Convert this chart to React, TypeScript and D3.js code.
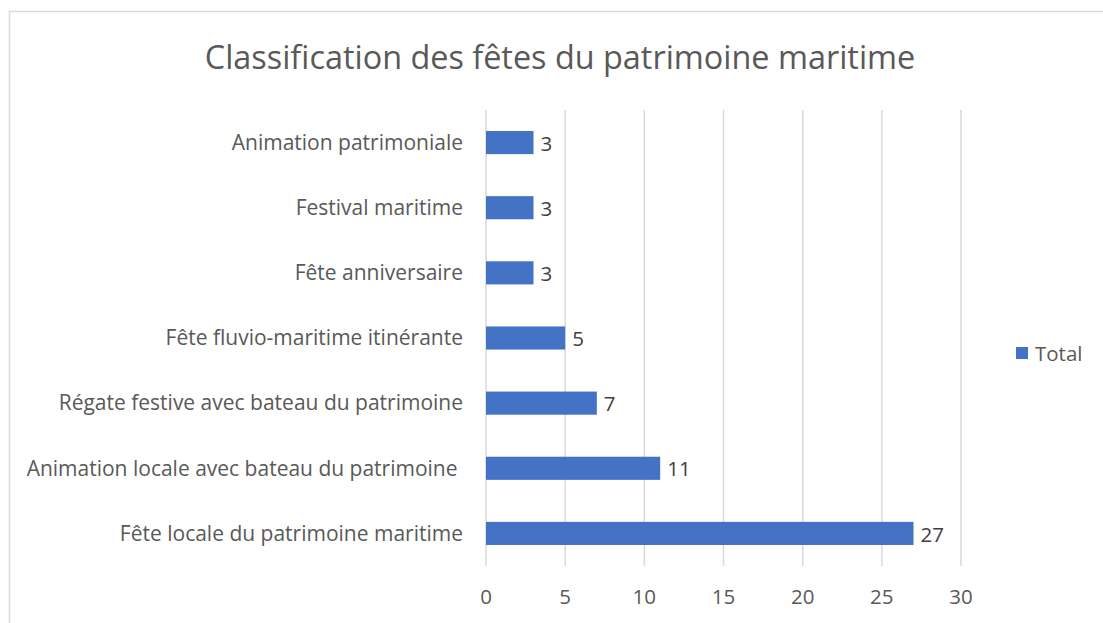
import React from "react";
import * as d3 from "d3";

const title = "Classification des fêtes du patrimoine maritime";
const categories = [
  "Animation patrimoniale",
  "Festival maritime",
  "Fête anniversaire",
  "Fête fluvio-maritime itinérante",
  "Régate festive avec bateau du patrimoine",
  "Animation locale avec bateau du patrimoine ",
  "Fête locale du patrimoine maritime",
];
const values = [3, 3, 3, 5, 7, 11, 27];
const xTicks = [0, 5, 10, 15, 20, 25, 30];
const seriesName = "Total";

const W = 1103;
const H = 623;
const FONT = "'Open Sans', sans-serif";

export default function App() {
  const plotLeft = 486;
  const plotRight = 961;
  const plotTop = 110;
  const plotBottom = 566;
  const x = d3.scaleLinear().domain([0, 30]).range([plotLeft, plotRight]);
  const y = d3
    .scaleBand<string>()
    .domain(categories)
    .range([plotTop, plotBottom])
    .paddingInner(0.645)
    .paddingOuter(0.3225);

  return (
    <svg
      width={W}
      height={H}
      style={{ position: "absolute", left: 0, top: 0, background: "#fff" }}
      fontFamily={FONT}
    >
      <rect x={0} y={0} width={W} height={H} fill="#fff" />
      <path d={`M9.5,${H} V11.5 H${W}`} fill="none" stroke="#d9d9d9" strokeWidth={1.5} />
      <text x={560} y={69} textAnchor="middle" fontSize={32.4} fill="#595959">
        {title}
      </text>
      {xTicks.map((t) => (
        <g key={t}>
          <line x1={x(t)} x2={x(t)} y1={plotTop} y2={plotBottom} stroke="#d9d9d9" strokeWidth={1.5} />
          <text x={x(t)} y={604} textAnchor="middle" fontSize={20.5} fill="#595959">
            {t}
          </text>
        </g>
      ))}
      {categories.map((c, i) => {
        const yy = y(c)!;
        const bw = y.bandwidth();
        return (
          <g key={c}>
            <rect x={x(0)} y={yy} width={x(values[i]) - x(0)} height={bw} fill="#4472c4" />
            <text
              x={463}
              y={yy + bw / 2}
              dy="0.35em"
              textAnchor="end"
              fontSize={21}
              fill="#595959"
              style={{ whiteSpace: "pre" }}
            >
              {c}
            </text>
            <text x={x(values[i]) + 7} y={yy + bw / 2} dy="0.4em" fontSize={20.5} fill="#404040">
              {values[i]}
            </text>
          </g>
        );
      })}
      <rect x={1016} y={347} width={12} height={12} fill="#4472c4" />
      <text x={1035} y={361} fontSize={20.5} fill="#595959">
        {seriesName}
      </text>
    </svg>
  );
}
